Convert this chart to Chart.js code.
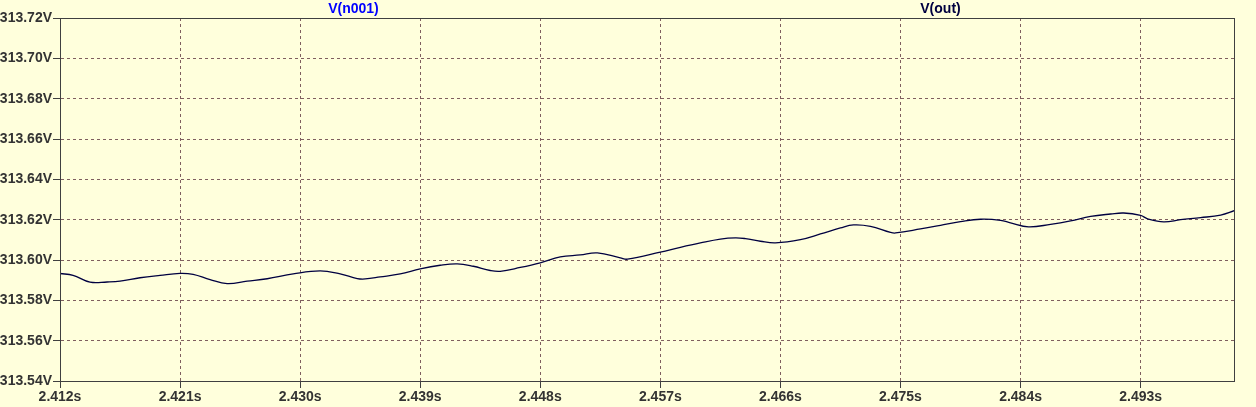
<!DOCTYPE html>
<html>
<head>
<meta charset="utf-8">
<script src="https://cdn.jsdelivr.net/npm/chart.js@4.4.1/dist/chart.umd.min.js"></script>
<style>
  html, body { margin: 0; padding: 0; background: #FFFFDC; }
  #wrap { width: 1256px; height: 407px; }
</style>
</head>
<body>
<div id="wrap"><canvas id="c" width="1256" height="407"></canvas></div>
<script>
// ---- Data ----
const timeS = [
  2.412, 2.41298, 2.41425, 2.41553, 2.4165, 2.418, 2.4195, 2.421, 2.42198, 2.42325,
  2.42453, 2.42603, 2.42753, 2.42948, 2.4315, 2.433, 2.43428, 2.43488, 2.436, 2.4375,
  2.439, 2.4405, 2.44178, 2.44298, 2.44425, 2.445, 2.4465, 2.448, 2.4495, 2.451,
  2.45228, 2.454, 2.45453, 2.457, 2.4585, 2.46, 2.4615, 2.46263, 2.46338, 2.4645,
  2.46563, 2.4675, 2.469, 2.4705, 2.47148, 2.47275, 2.47425, 2.47463, 2.4765, 2.478,
  2.4795, 2.481, 2.4825, 2.48325, 2.4846, 2.48625, 2.48775, 2.48925, 2.49075, 2.49173,
  2.493, 2.49353, 2.49473, 2.496, 2.4975, 2.499, 2.50005
];
const vOut = [
  313.5933, 313.5924, 313.5890, 313.5891, 313.5895, 313.5912, 313.5924, 313.5934, 313.5929, 313.5903,
  313.5883, 313.5895, 313.5907, 313.5931, 313.5946, 313.5931, 313.5908, 313.5906, 313.5916, 313.5931,
  313.5956, 313.5974, 313.5981, 313.5969, 313.5948, 313.5944, 313.5963, 313.5986, 313.6015, 313.6025,
  313.6035, 313.6011, 313.6004, 313.6039, 313.6063, 313.6085, 313.6104, 313.6110, 313.6106, 313.6093,
  313.6085, 313.6101, 313.6129, 313.6159, 313.6174, 313.6167, 313.6137, 313.6134, 313.6154, 313.6172,
  313.6190, 313.6202, 313.6197, 313.6184, 313.6164, 313.6177, 313.6194, 313.6216, 313.6228, 313.6233,
  313.6221, 313.6204, 313.6189, 313.6200, 313.6210, 313.6223, 313.6245
];
const xTicks = [2.412, 2.421, 2.430, 2.439, 2.448, 2.457, 2.466, 2.475, 2.484, 2.493];
const yTicks = [313.54, 313.56, 313.58, 313.60, 313.62, 313.64, 313.66, 313.68, 313.70, 313.72];
const traceNames = ['V(n001)', 'V(out)'];
const traceColors = ['#0000FF', '#000040'];
const xRange = [2.412, 2.500];
const yRange = [313.54, 313.72];

const points = timeS.map((t, i) => ({ x: t, y: vOut[i] }));

const FONT = { family: '"Liberation Sans", Arial, sans-serif', size: 14, weight: 'bold' };
const TEXT = '#333333';
const GRID = '#7F5F5F';
const AXIS = '#404040';

const framePlugin = {
  id: 'frame',
  beforeDraw(chart) {
    const ctx = chart.ctx;
    ctx.save();
    ctx.fillStyle = '#FFFFDC';
    ctx.fillRect(0, 0, chart.width, chart.height);
    ctx.restore();
  },
  afterDraw(chart) {
    const { ctx, chartArea: a } = chart;
    ctx.save();
    ctx.strokeStyle = AXIS;
    ctx.lineWidth = 1;
    ctx.strokeRect(Math.round(a.left) + 0.5, Math.round(a.top) + 0.5,
                   Math.round(a.right - a.left), Math.round(a.bottom - a.top));
    ctx.font = `${FONT.weight} ${FONT.size}px ${FONT.family}`;
    ctx.textAlign = 'center';
    ctx.textBaseline = 'middle';
    traceNames.forEach((name, i) => {
      ctx.fillStyle = traceColors[i];
      const x = a.left + (a.right - a.left) * (0.25 + 0.5 * i);
      ctx.fillText(name, x, 9);
    });
    ctx.restore();
  }
};

new Chart(document.getElementById('c'), {
  type: 'line',
  data: {
    datasets: [{
      label: traceNames[1],
      data: points,
      borderColor: traceColors[1],
      borderWidth: 1.3,
      pointRadius: 0,
      tension: 0.4,
      fill: false
    }]
  },
  options: {
    responsive: false,
    animation: false,
    layout: { padding: { top: 18, right: 22, left: 0, bottom: 0 } },
    plugins: { legend: { display: false }, tooltip: { enabled: false }, title: { display: false } },
    scales: {
      x: {
        type: 'linear',
        min: xRange[0],
        max: xRange[1],
        afterBuildTicks(scale) { scale.ticks = xTicks.map(v => ({ value: v })); },
        afterFit(scale) { scale.height = 26; },
        ticks: {
          autoSkip: false,
          maxRotation: 0,
          padding: 1,
          color: TEXT,
          font: FONT,
          callback: v => v.toFixed(3) + 's'
        },
        grid: {
          color: GRID,
          lineWidth: 1,
          drawTicks: true,
          tickLength: 7,
          tickColor: AXIS,
          tickBorderDash: [],
        },
        border: { display: true, color: AXIS, dash: [3, 3] }
      },
      y: {
        type: 'linear',
        min: yRange[0],
        max: yRange[1],
        afterBuildTicks(scale) { scale.ticks = yTicks.map(v => ({ value: v })); },
        afterFit(scale) { scale.width = 60; },
        ticks: {
          autoSkip: false,
          padding: 1,
          color: TEXT,
          font: FONT,
          callback: v => v.toFixed(2) + 'V'
        },
        grid: {
          color: GRID,
          lineWidth: 1,
          drawTicks: true,
          tickLength: 7,
          tickColor: AXIS,
          tickBorderDash: [],
        },
        border: { display: true, color: AXIS, dash: [3, 3] }
      }
    }
  },
  plugins: [framePlugin]
});
</script>
</body>
</html>
